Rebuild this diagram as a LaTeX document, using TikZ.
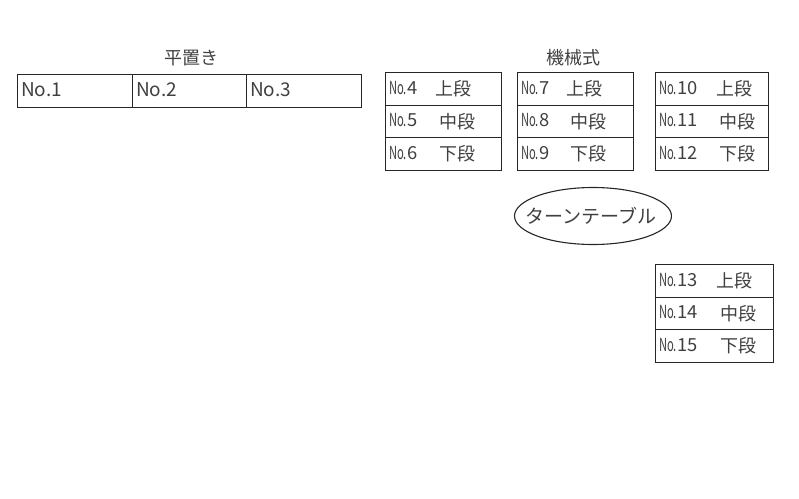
\documentclass[tikz,border=0pt]{standalone}
\usepackage{fontspec}
\setmainfont{Noto Sans CJK JP}
\usetikzlibrary{shapes.geometric}
\newcommand{\nolbl}[1]{\scalebox{0.62}[1]{No.}\scalebox{1.02}[1]{#1}}
\begin{document}
\begin{tikzpicture}[x=1pt,y=-1pt,
  cell/.style={draw,line width=1.1pt,draw=black!85,anchor=north west,inner sep=0pt,minimum height=32.5pt},
  lbl/.style={anchor=west,inner sep=0pt,font=\fontsize{18}{18}\selectfont,text=black!75},
  big/.style={anchor=west,inner sep=0pt,font=\fontsize{19}{19}\selectfont,text=black!75},
  ttl/.style={inner sep=0pt,font=\fontsize{18}{18}\selectfont,text=black!75}]
\useasboundingbox (0,0) rectangle (799,498);
% flat
\node[ttl] (t1) at (191,58) {平置き};
\node[cell,minimum width=115pt] (c1) at (17,74) {};
\node[cell,minimum width=114pt] (c2) at (132,74) {};
\node[cell,minimum width=115pt] (c3) at (246,74) {};
\node[big] at ([xshift=4pt,yshift=1.5pt]c1.west) {No.1};
\node[big] at ([xshift=4pt,yshift=1.5pt]c2.west) {No.2};
\node[big] at ([xshift=4pt,yshift=1.5pt]c3.west) {No.3};
% mechanical
\node[ttl] (t2) at (573,58) {機械式};
\foreach \nm/\x/\w/\y/\a/\b/\c in {
  a/385/116/72/4/5/6,
  b/517/116/72/7/8/9,
  c/655/113/72/10/11/12,
  d/655/118/264/13/14/15}{
  \node[cell,minimum width=\w pt] (\nm1) at (\x,\y) {};
  \node[cell,minimum width=\w pt] (\nm2) at (\x,\y+32.5) {};
  \node[cell,minimum width=\w pt] (\nm3) at (\x,\y+65) {};
  \node[lbl] at ([xshift=4pt,yshift=1pt]\nm1.west) {\nolbl{\a}};
  \node[lbl] at ([xshift=4pt,yshift=1pt]\nm2.west) {\nolbl{\b}};
  \node[lbl] at ([xshift=4pt,yshift=1pt]\nm3.west) {\nolbl{\c}};
}
\node[lbl] at ([xshift=50pt]a1.west) {上段};
\node[lbl] at ([xshift=54pt]a2.west) {中段};
\node[lbl] at ([xshift=54pt]a3.west) {下段};
\node[lbl] at ([xshift=49pt]b1.west) {上段};
\node[lbl] at ([xshift=53pt]b2.west) {中段};
\node[lbl] at ([xshift=53pt]b3.west) {下段};
\node[lbl] at ([xshift=61pt]c1.west) {上段};
\node[lbl] at ([xshift=64pt]c2.west) {中段};
\node[lbl] at ([xshift=64pt]c3.west) {下段};
\node[lbl] at ([xshift=61pt]d1.west) {上段};
\node[lbl] at ([xshift=65pt]d2.west) {中段};
\node[lbl] at ([xshift=65pt]d3.west) {下段};
% turntable
\node[draw,ellipse,line width=1.1pt,draw=black!85,minimum width=157pt,minimum height=57pt,inner sep=0pt] (tt) at (593,216) {};
\node[inner sep=0pt,font=\fontsize{19}{19}\selectfont,text=black!75] (ttl) at ([xshift=-2pt]tt.center) {ターンテーブル};
\end{tikzpicture}
\end{document}
